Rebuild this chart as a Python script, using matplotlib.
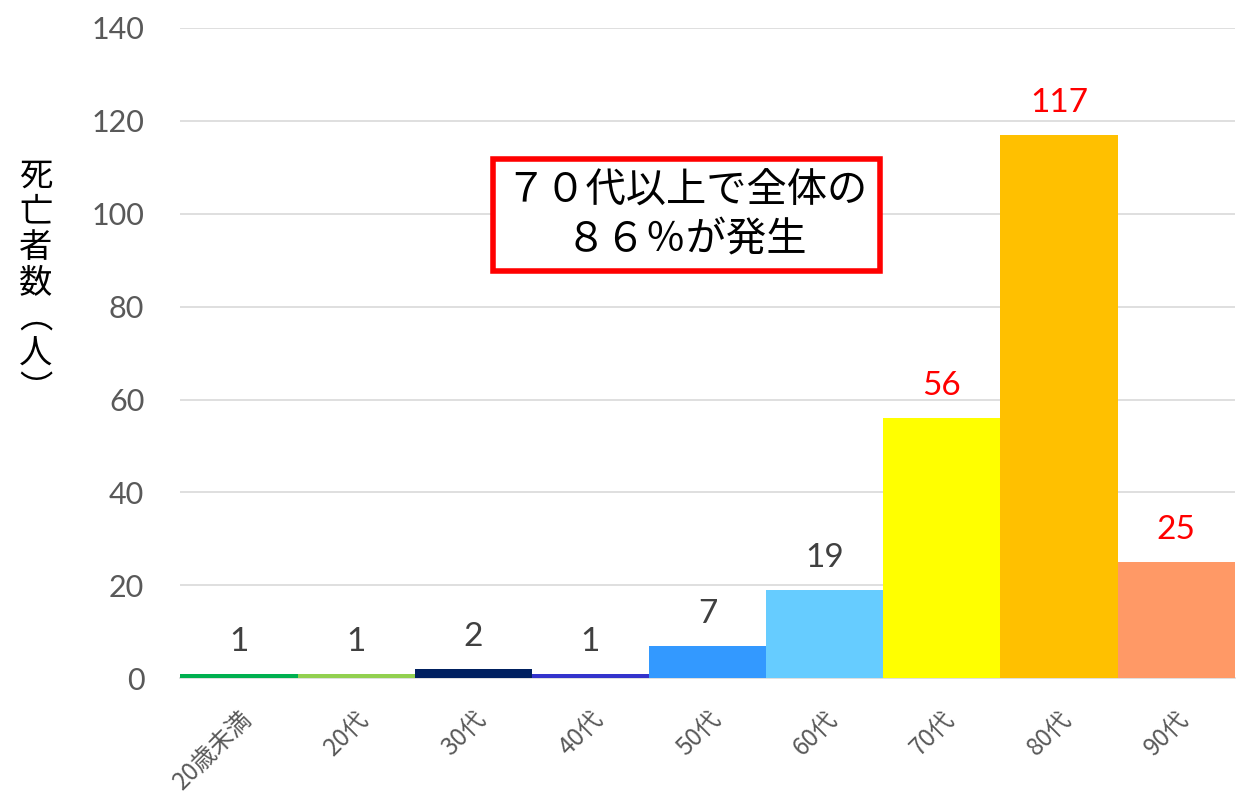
import matplotlib
matplotlib.use("Agg")
import matplotlib.pyplot as plt

categories = ["20歳未満", "20代", "30代", "40代", "50代", "60代", "70代", "80代", "90代"]
values = [1, 1, 2, 1, 7, 19, 56, 117, 25]
colors = ["#00B050", "#92D050", "#002060", "#3333CC", "#3399FF", "#66CCFF", "#FFFF00", "#FFC000", "#FF9966"]
label_colors = ["#404040"] * 6 + ["#FF0000"] * 3
yticks = [0, 20, 40, 60, 80, 100, 120, 140]
ylabel_chars = ["死", "亡", "者", "数", "︵", "人", "︶"]
note = "７０代以上で全体の\n８６％が発生"

plt.rcParams['font.family'] = ['Lato', 'Noto Sans CJK JP', 'DejaVu Sans']

fig = plt.figure(figsize=(12.36, 7.97), dpi=100)
ax = fig.add_axes([0.146, 0.149, 0.853, 0.816])

x = range(len(categories))
ax.bar(x, values, width=1.0, color=colors, zorder=3)
ax.set_xlim(-0.5, len(categories) - 0.5)
ax.set_ylim(0, 140)
ax.set_yticks(yticks)
ax.yaxis.grid(True, color="#D9D9D9", linewidth=1.2, zorder=0)
ax.set_axisbelow(True)
for s in ["top", "right", "left"]:
    ax.spines[s].set_visible(False)
ax.spines["bottom"].set_color("#D9D9D9")
ax.spines["bottom"].set_linewidth(1.2)
ax.tick_params(axis="both", length=0)
ax.tick_params(axis="y", labelsize=22, labelcolor="#595959", pad=26)
ax.set_xticks(list(x))
ax.set_xticklabels(categories, rotation=45, ha="right", rotation_mode="anchor",
                   fontsize=17.5, color="#595959",
                   family=['Noto Sans CJK JP', 'DejaVu Sans'])
ax.tick_params(axis="x", pad=20)

for i, v in enumerate(values):
    ax.annotate(str(v), (i, v), xytext=(0, 12), textcoords="offset points",
                ha="center", va="bottom", fontsize=24, color=label_colors[i])

fig.text(0.029, 0.645, "\n".join(ylabel_chars), ha="center", va="center", fontsize=24,
         linespacing=1.02, color="black", family=['Noto Sans CJK JP', 'DejaVu Sans'])

ax.text(3.82, 99.7, note, ha="center", va="center", fontsize=29, color="black",
        linespacing=1.2, family=['Noto Sans CJK JP', 'DejaVu Sans'],
        bbox=dict(boxstyle="square,pad=0.3", facecolor="white", edgecolor="#FF0000", linewidth=4),
        zorder=5)

fig.savefig("out.png", dpi=100)
